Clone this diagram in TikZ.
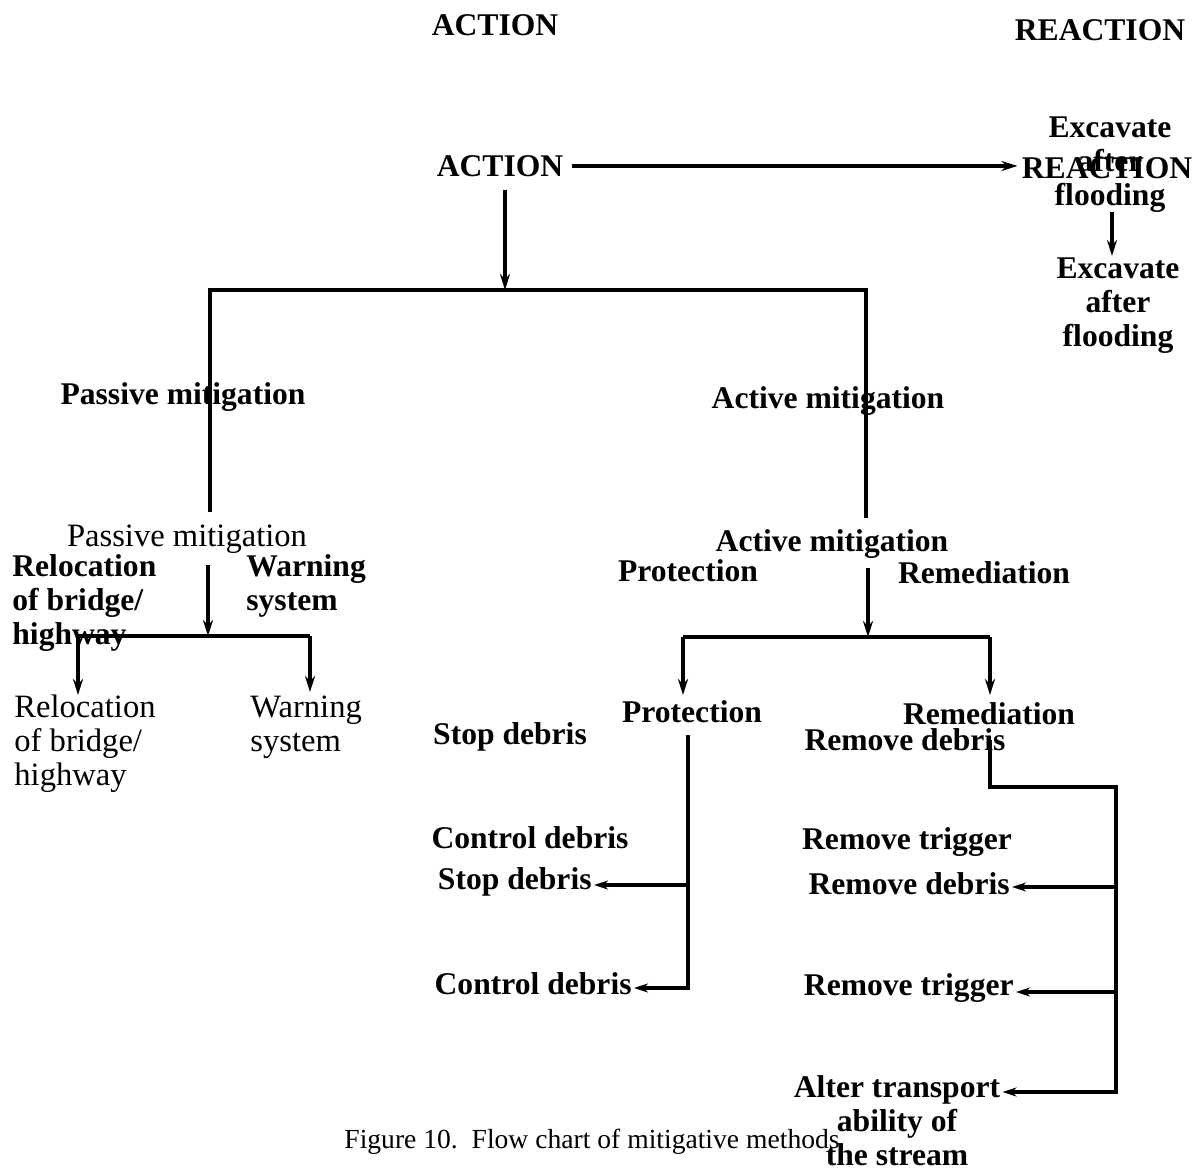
\documentclass[tikz,border=0pt]{standalone}
\usepackage{fontspec}
\setmainfont{Liberation Serif}
\usetikzlibrary{arrows.meta}
\begin{document}
\begin{tikzpicture}[x=0.5pt,y=-0.5pt,
  bt/.style={font=\fontsize{15.8}{17}\selectfont\bfseries, inner sep=0pt, align=center},
  rt/.style={font=\fontsize{16.3}{17}\selectfont, inner sep=0pt, align=center},
  ln/.style={line width=1.7pt},
  arr/.style={ln,-{Stealth[length=8pt,width=5pt]}},
  larr/.style={ln,-{Stealth[length=7pt,width=4.5pt]}},
]
\useasboundingbox (0,0) rectangle (1198,1171);
% titles
\node[bt] (actT) at (495,25) {ACTION};
\node[bt] (reactT) at (1100,30) {REACTION};
% main row
\node[bt] (act) at (500,166) {ACTION};
\node[bt] (react) at (1107,168) {REACTION};
\node[bt] (exc1) at (1110,165) {Excavate\\after\\flooding};
\node[bt] (exc2) at (1118,306) {Excavate\\after\\flooding};
% mitigation
\node[bt] (pm1) at (183,397) {Passive mitigation};
\node[bt] (am1) at (828,401) {Active mitigation};
\node[rt] (pm2) at (187,539) {Passive mitigation};
\node[bt] (am2) at (832,544) {Active mitigation};
% passive branches
\node[bt, align=left, anchor=west] (rel1) at (12,603) {Relocation\\of bridge/\\highway};
\node[bt, align=left, anchor=west] (warn1) at (246,586) {Warning\\system};
\node[rt, align=left, anchor=west] (rel2) at (14,744) {Relocation\\of bridge/\\highway};
\node[rt, align=left, anchor=west] (warn2) at (250,727) {Warning\\system};
% active branches
\node[bt] (prot1) at (688,571) {Protection};
\node[bt] (rem1) at (984,573) {Remediation};
\node[bt] (prot2) at (692,712) {Protection};
\node[bt] (rem2) at (989,714) {Remediation};
\node[bt] (stop1) at (510,737) {Stop debris};
\node[bt] (remd1) at (905,740) {Remove debris};
\node[bt] (ctrl1) at (530,838) {Control debris};
\node[bt] (remt1) at (907,842) {Remove trigger};
\node[bt, anchor=east] (stop2) at (592,882) {Stop debris};
\node[bt, anchor=east] (remd2) at (1010,884) {Remove debris};
\node[bt, anchor=east] (ctrl2) at (632,984) {Control debris};
\node[bt, anchor=east] (remt2) at (1014,988) {Remove trigger};
\node[bt] (alter) at (897,1121) {Alter transport\\ability of\\the stream};
\node[rt, font=\fontsize{13.8}{15}\selectfont] (cap) at (592,1142) {Figure 10.\ \ Flow chart of mitigative methods};
% junction coordinates
\coordinate (aDown) at (505,190);
\coordinate (aBar) at (505,290);
\coordinate (pTop) at (210,290);
\coordinate (pEnd) at (210,512);
\coordinate (mTop) at (866,290);
\coordinate (mEnd) at (866,518);
\coordinate (pmS) at (208,565);
\coordinate (pBar) at (208,636);
\coordinate (rBarL) at (78,636);
\coordinate (rBarR) at (310,636);
\coordinate (rEndL) at (78,695);
\coordinate (rEndR) at (310,692);
\coordinate (exS) at (1112,212);
\coordinate (exE) at (1112,256);
\coordinate (amS) at (868,568);
\coordinate (aBar2) at (868,637);
\coordinate (abL) at (683,637);
\coordinate (abR) at (990,637);
\coordinate (abLe) at (683,695);
\coordinate (abRe) at (990,695);
\coordinate (prS) at (688,735);
\coordinate (prC) at (688,988);
\coordinate (prM) at (688,885);
\coordinate (reS) at (990,740);
\coordinate (reA) at (990,787);
\coordinate (reB) at (1116,787);
\coordinate (reC) at (1116,1092);
\coordinate (reM1) at (1116,887);
\coordinate (reM2) at (1116,992);
% connectors
\draw[arr] ([xshift=4pt]act.east) -- ([xshift=-2pt]react.west |- act.east);
\draw[arr] (aDown) -- (aBar);
\draw[ln] (pEnd) -- (pTop) -- (mTop) -- (mEnd);
\draw[arr] (pmS) -- (pBar);
\draw[ln] (rBarL) -- (rBarR);
\draw[arr] (rBarL) -- (rEndL);
\draw[arr] (rBarR) -- (rEndR);
\draw[arr] (exS) -- (exE);
\draw[arr] (amS) -- (aBar2);
\draw[ln] (abL) -- (abR);
\draw[arr] (abL) -- (abLe);
\draw[arr] (abR) -- (abRe);
\draw[larr] (prS) -- (prC) -- ([xshift=1pt]ctrl2.east |- prC);
\draw[larr] (prM) -- ([xshift=1pt]stop2.east |- prM);
\draw[larr] (reS) -- (reA) -- (reB) -- (reC) -- ([xshift=1pt]alter.north east |- reC);
\draw[larr] (reM1) -- ([xshift=1pt]remd2.east |- reM1);
\draw[larr] (reM2) -- ([xshift=1pt]remt2.east |- reM2);
\end{tikzpicture}
\end{document}
